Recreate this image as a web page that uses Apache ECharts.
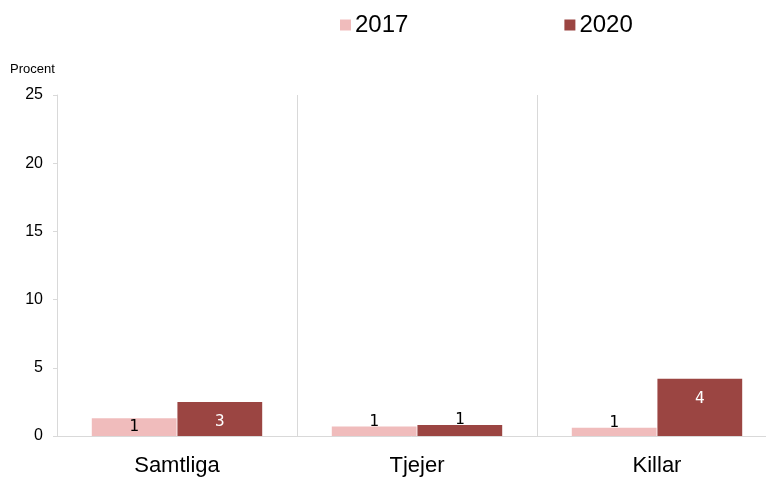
<!DOCTYPE html>
<html><head><meta charset="utf-8">
<script src="https://cdn.jsdelivr.net/npm/echarts@6/dist/echarts.min.js"></script>
<style>html,body{margin:0;padding:0;background:#fff}#c{width:766px;height:477px}</style>
</head><body><div id="c"></div>
<script>
const categories = ['Samtliga', 'Tjejer', 'Killar'];
const values2017 = [1.3, 0.7, 0.6];
const values2020 = [2.5, 0.8, 4.2];
const seriesNames = ['2017', '2020'];
const yTicks = [0, 5, 10, 15, 20, 25];

function labelFor(v, color) {
  let pos, dist = 5;
  if (v > 2) { pos = 'insideTop'; dist = 12; }
  else if (v >= 1) { pos = 'inside'; }
  else { pos = 'top'; dist = -3; }
  return { value: v, label: { show: true, position: pos, distance: dist, color: color,
    fontFamily: 'DejaVu Sans Mono', fontSize: 16, formatter: p => Math.round(p.value + 1e-9) } };
}

const chart = echarts.init(document.getElementById('c'), null, { renderer: 'canvas' });
chart.setOption({
  animation: false,
  legend: {
    top: 8, left: 335, itemGap: 156, itemWidth: 11, itemHeight: 11,
    icon: 'rect',
    textStyle: { fontSize: 24, color: '#000', fontFamily: 'Liberation Sans, Arial, sans-serif', padding: [0,0,0,-1] },
    data: seriesNames
  },
  graphic: [{ type: 'text', left: 10, top: 63, style: { text: 'Procent', fontSize: 13, fill: '#000', fontFamily: 'Liberation Sans, Arial, sans-serif' } }],
  grid: { left: 57, width: 720, top: 95, bottom: 41, containLabel: false, outerBoundsMode: 'none' },
  xAxis: {
    type: 'category', data: categories,
    axisLine: { lineStyle: { color: '#d9d9d9' } },
    axisTick: { show: false },
    splitLine: { show: true, lineStyle: { color: '#d9d9d9' } },
    axisLabel: { fontSize: 22, color: '#000', margin: 19, fontFamily: 'Liberation Sans, Arial, sans-serif' }
  },
  yAxis: {
    type: 'value', min: yTicks[0], max: yTicks[yTicks.length - 1], interval: 5,
    axisLine: { show: true, lineStyle: { color: '#d9d9d9' } },
    axisTick: { show: true, length: 4, lineStyle: { color: '#d9d9d9' } },
    splitLine: { show: false },
    axisLabel: { fontSize: 16, color: '#000', margin: 14, fontFamily: 'Liberation Sans, Arial, sans-serif' }
  },
  series: [
    { name: seriesNames[0], type: 'bar', barGap: '1%', barCategoryGap: '29%',
      itemStyle: { color: '#f0bcbc' },
      data: values2017.map(v => labelFor(v, '#000')) },
    { name: seriesNames[1], type: 'bar', barGap: '1%', barCategoryGap: '29%',
      itemStyle: { color: '#9b4542' },
      data: values2020.map(v => labelFor(v, v > 2 ? '#fff' : '#000')) }
  ]
});
</script></body></html>
